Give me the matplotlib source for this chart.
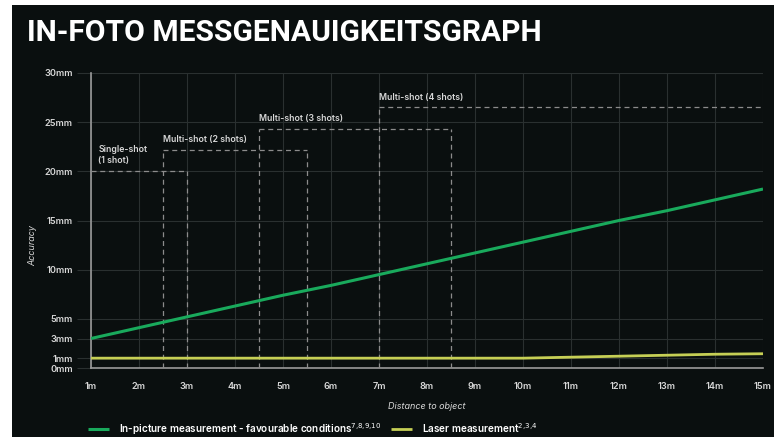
import matplotlib
matplotlib.use('Agg')
from matplotlib import pyplot as plt
from matplotlib.patches import Rectangle

# distance to object (m) and accuracy (mm)
distance_m = [1, 2, 3, 4, 5, 6, 7, 8, 9, 10, 11, 12, 13, 14, 15]
in_picture_mm = [3.0, 4.1, 5.2, 6.3, 7.4, 8.4, 9.5, 10.6, 11.7, 12.8, 13.9, 15.0, 16.0, 17.1, 18.2]
laser_mm = [1.0, 1.0, 1.0, 1.0, 1.0, 1.0, 1.0, 1.0, 1.0, 1.0, 1.1, 1.2, 1.3, 1.4, 1.45]

y_ticks = [0, 1, 3, 5, 10, 15, 20, 25, 30]
y_labels = ['0mm', '1mm', '3mm', '5mm', '10mm', '15mm', '20mm', '25mm', '30mm']
x_labels = ['%dm' % d for d in distance_m]

# shot windows (dashed boxes)
shot_labels = ['Single-shot\n(1 shot)', 'Multi-shot (2 shots)', 'Multi-shot (3 shots)', 'Multi-shot (4 shots)']
shot_start = [1, 2.5, 4.5, 7]
shot_end = [3, 5.5, 8.5, 15]
shot_level = [20, 22.2, 24.3, 26.5]

bg = '#0a0f0f'
grid_c = '#2a3030'
text_c = '#d8d8d8'
green = '#19aa5c'
yellow = '#c6cf55'

plt.rcParams['font.family'] = ['Inter', 'DejaVu Sans']

W, H = 774, 437
fig = plt.figure(figsize=(W / 100, H / 100), dpi=100, facecolor='white')
fig.patches.append(Rectangle((12 / W, 0), 1 - 12 / W, 1 - 5 / H, transform=fig.transFigure,
                             facecolor=bg, edgecolor='none', zorder=-10))

ax = fig.add_axes([91 / W, (H - 368) / H, (763 - 91) / W, (368 - 73) / H])
ax.set_facecolor(bg)

ax.plot(distance_m, in_picture_mm, color=green, lw=2.2, solid_capstyle='butt', zorder=4,
        label='In-picture measurement - favourable conditions$^{7{,}8{,}9{,}10}$')
ax.plot(distance_m, laser_mm, color=yellow, lw=2.0, solid_capstyle='butt', zorder=4,
        label='Laser measurement$^{2{,}3{,}4}$')

for i in range(len(shot_labels)):
    x0, x1, lvl = shot_start[i], shot_end[i], shot_level[i]
    ax.plot([x0, x1], [lvl, lvl], color='#8c8c8c', lw=0.9, dashes=(4, 3), zorder=3)
    for xv in (x0, x1):
        if 1 < xv < 15:
            ax.plot([xv, xv], [0, lvl], color='#8c8c8c', lw=0.9, dashes=(4, 3), zorder=3)
    tx = x0 + 0.15 if x0 == 1 else x0
    ax.text(tx, lvl + 0.6, shot_labels[i], color=text_c, fontsize=6.3, fontweight='semibold',
            ha='left', va='bottom', linespacing=1.3)

ax.set_xlim(1, 15)
ax.set_ylim(0, 30)
ax.set_xticks(distance_m)
ax.set_xticklabels(x_labels)
ax.set_yticks(y_ticks)
ax.set_yticklabels(y_labels)
ax.grid(True, color=grid_c, lw=0.8)
ax.set_axisbelow(True)
ax.tick_params(axis='y', length=10, width=0.8, color=grid_c, labelcolor=text_c, labelsize=6.6, pad=3)
ax.tick_params(axis='x', length=0, labelcolor=text_c, labelsize=6.6, pad=10)
for lab in ax.get_xticklabels() + ax.get_yticklabels():
    lab.set_fontweight('semibold')

for s in ['top', 'right']:
    ax.spines[s].set_visible(False)
for s in ['left', 'bottom']:
    ax.spines[s].set_color('#9a9a9a')
    ax.spines[s].set_linewidth(1.2)

ax.set_xlabel('Distance to object', color=text_c, fontsize=6.5, style='italic', labelpad=8)
fig.text(33 / W, 1 - 245 / H, 'Accuracy', color=text_c, fontsize=6.5, style='italic',
         rotation=90, ha='center', va='center')

fig.text(27 / W, 1 - 33 / H, 'IN-FOTO MESSGENAUIGKEITSGRAPH', color='white', fontsize=21.6,
         fontweight='bold', ha='left', va='center', family=['Roboto', 'DejaVu Sans'])

leg = fig.legend(loc='center left', bbox_to_anchor=(88 / W, 1 - 429 / H), ncol=2, frameon=False,
                 fontsize=7.2, handlelength=2.1, columnspacing=1.0, handletextpad=1.0, labelcolor='white',
                 borderaxespad=0, borderpad=0)
for t in leg.get_texts():
    t.set_fontweight('semibold')

fig.savefig('out.png', dpi=100, facecolor='white')
